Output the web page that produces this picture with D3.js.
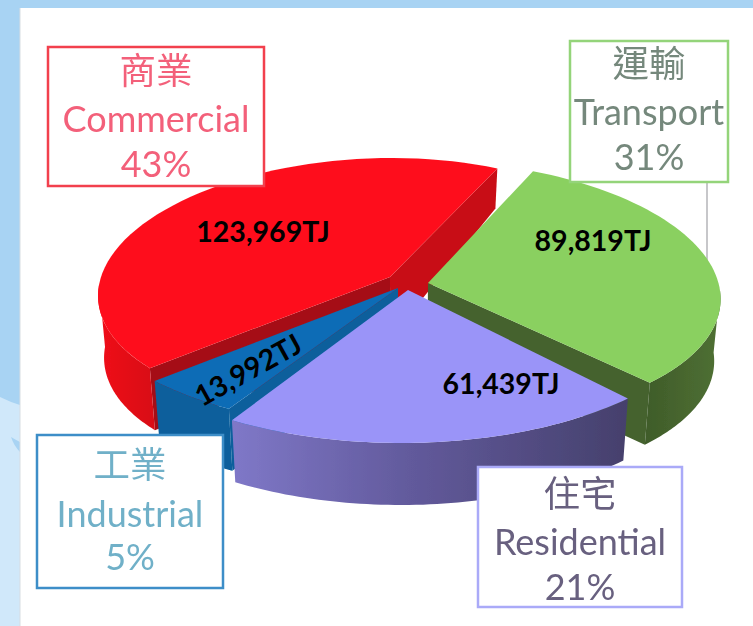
<!DOCTYPE html>
<html>
<head>
<meta charset="utf-8">
<script src="https://cdn.jsdelivr.net/npm/d3@7"></script>
<style>
  html, body { margin: 0; padding: 0; background: #fff; }
  svg { display: block; }
  .name { font-family: "Noto Sans CJK TC", sans-serif; font-size: 36.5px; text-anchor: middle; }
  .nameEn, .share { font-family: Lato, sans-serif; font-size: 36px; text-anchor: middle; }
  .amount { font-family: Lato, sans-serif; font-weight: 700; font-size: 28.5px; fill: #000; text-anchor: middle; }
</style>
</head>
<body>
<div id="chart"></div>
<script>
(function(d3) {
  'use strict';

  // clockwise from the top right
  var categoriesEn = ['Transport', 'Residential', 'Industrial', 'Commercial'];
  var categoriesZh = ['運輸', '住宅', '工業', '商業'];
  var energyTJ = [89819, 61439, 13992, 123969];
  var sharePct = [31, 21, 5, 43];

  var width = 753;
  var height = 626;
  var firstAngle = 23.4 * Math.PI / 180;

  var topColors = ['#8ad060', '#9a94f8', '#0a6cb6', '#fe101c'];
  var boxColors = ['#94d47a', '#aaaaf8', '#3d8ec8', '#f2404e'];
  var textColors = ['#75887c', '#68607f', '#6fb0c8', '#f3607a'];
  var wallColors = ['url(#wallGreen)', 'url(#wallPurple)', '#0a5f9c', 'url(#wallRed)'];
  var cutColors = ['#45622e', '#45622e', '#0a5f9c', '#c80c14'];

  // where each exploded slice sits: apex, ellipse of the rim, skew of the rim
  var sliceLayout = [
    { ax: 428, ay: 283, cx: 438, cy: 290.5, rx: 282, ry: 130, skew: -18.5, cuts: 'end' },
    { ax: 408, ay: 290, cx: 401, cy: 290, rx: 322, ry: 153, skew: 0, cuts: '' },
    { ax: 398, ay: 288, cx: 398, cy: 288, rx: 322, ry: 142, skew: 0, cuts: 'start' },
    { ax: 390, ay: 277, cx: 369, cy: 285, rx: 270, ry: 127, skew: 23, cuts: 'both' }
  ];
  var boxes = [
    { x: 570, y: 41, w: 158, h: 141, base: [77, 125, 170] },
    { x: 478, y: 467, w: 204, h: 140, base: [507, 555, 600] },
    { x: 37, y: 435, w: 186, h: 153, base: [478, 527, 570] },
    { x: 48, y: 47, w: 216, h: 139, base: [84, 132, 177] }
  ];
  var amountPos = [
    { x: 593, y: 251, r: 0 },
    { x: 501, y: 394, r: 0 },
    { x: 253, y: 379, r: -29 },
    { x: 263, y: 242, r: 0 }
  ];

  var svg = d3.select('#chart')
    .append('svg')
    .attr('width', width)
    .attr('height', height);

  var defs = svg.append('defs');
  function wallGradient(id, stops) {
    var g = defs.append('linearGradient').attr('id', id);
    stops.forEach(function(s) {
      g.append('stop').attr('offset', s[0]).attr('stop-color', s[1]);
    });
  }
  wallGradient('wallPurple', [[0, '#7f78c8'], [0.45, '#625a9c'], [1, '#45406c']]);
  wallGradient('wallGreen', [[0, '#3f5c2a'], [1, '#4f7033']]);
  wallGradient('wallRed', [[0, '#f0101a'], [1, '#d80c16']]);
  defs.append('filter').attr('id', 'soft')
    .append('feGaussianBlur').attr('stdDeviation', 0.45);

  // page background
  svg.append('rect').attr('width', width).attr('height', height).attr('fill', '#a8d3f3');
  svg.append('path')
    .attr('d', 'M0,397 Q10,402 20,405 L20,626 L0,626 Z')
    .attr('fill', '#d0e8fa');
  svg.append('path')
    .attr('d', 'M11,437 Q16,440 20,442 L20,452 Q14,446 11,437 Z')
    .attr('fill', '#a8d3f3');
  svg.append('rect').attr('x', 20).attr('y', 8).attr('width', width - 20).attr('height', height - 8).attr('fill', '#fff');
  svg.append('line').attr('x1', 20).attr('x2', 20).attr('y1', 8).attr('y2', height)
    .attr('stroke', '#d8dde2').attr('stroke-width', 1);

  // leader from the transport box
  svg.append('line')
    .attr('x1', 707).attr('x2', 707).attr('y1', 182).attr('y2', 262)
    .attr('stroke', '#b4b4b8').attr('stroke-width', 1.5);

  var pie = d3.pie()
    .value(function(d) { return d; })
    .sort(null)
    .startAngle(firstAngle)
    .endAngle(firstAngle + 2 * Math.PI);

  var slices = pie(energyTJ);
  var line = d3.line();

  function rim(layout, a) {
    return [
      layout.cx + layout.rx * Math.sin(a) + layout.skew * Math.cos(a),
      layout.cy - layout.ry * Math.cos(a)
    ];
  }

  // the far side of the pie looks shorter, the base pulls in a little
  var depth = d3.scaleLinear().domain([168, 280]).range([40, 62]).clamp(true);

  function dropped(p) {
    return [p[0] + (400 - p[0]) * 0.02, p[1] + depth(p[1])];
  }

  function rimPoints(layout, a0, a1) {
    var n = 60;
    return d3.range(n + 1).map(function(i) {
      return rim(layout, a0 + (a1 - a0) * i / n);
    });
  }

  function cutWall(layout, a) {
    var apex = [layout.ax, layout.ay];
    var corner = rim(layout, a);
    return line([apex, corner, dropped(corner), dropped(apex)]) + 'Z';
  }

  // back to front
  var drawOrder = [3, 0, 2, 1];

  var pieGroup = svg.append('g').attr('class', 'pieContainer').attr('filter', 'url(#soft)');

  var slice = pieGroup.selectAll('g')
    .data(drawOrder)
    .enter()
    .append('g')
    .attr('class', 'slice');

  slice.each(function(i) {
    var g = d3.select(this);
    var d = slices[i];
    var layout = sliceLayout[i];

    if (layout.cuts === 'both') {
      g.append('path').attr('d', cutWall(layout, d.endAngle)).attr('fill', cutColors[i]);
      g.append('path').attr('d', cutWall(layout, d.startAngle)).attr('fill', '#a50f18');
    }
    if (layout.cuts === 'end') {
      g.append('path').attr('d', cutWall(layout, d.endAngle)).attr('fill', cutColors[i]);
    }
    if (layout.cuts === 'start') {
      g.append('path').attr('d', cutWall(layout, d.startAngle)).attr('fill', cutColors[i]);
    }

    var wallStart = Math.max(d.startAngle, Math.PI / 2);
    var wallEnd = Math.min(d.endAngle, 3 * Math.PI / 2);
    if (wallEnd > wallStart) {
      var front = rimPoints(layout, wallStart, wallEnd);
      g.append('path')
        .attr('d', line(front.concat(front.map(dropped).reverse())) + 'Z')
        .attr('fill', wallColors[i]);
    }

    g.append('path')
      .attr('d', line([[layout.ax, layout.ay]].concat(rimPoints(layout, d.startAngle, d.endAngle))) + 'Z')
      .attr('fill', topColors[i]);
  });

  // category boxes
  var legend = svg.selectAll('.legend')
    .data(d3.range(categoriesEn.length))
    .enter()
    .append('g')
    .attr('class', 'legend')
    .attr('filter', 'url(#soft)');

  legend.append('rect')
    .attr('x', function(i) { return boxes[i].x; })
    .attr('y', function(i) { return boxes[i].y; })
    .attr('width', function(i) { return boxes[i].w; })
    .attr('height', function(i) { return boxes[i].h; })
    .attr('fill', '#fff')
    .attr('stroke', function(i) { return boxColors[i]; })
    .attr('stroke-width', 2.5);

  function boxText(cls, row, label) {
    legend.append('text')
      .attr('class', cls)
      .attr('x', function(i) { return boxes[i].x + boxes[i].w / 2; })
      .attr('y', function(i) { return boxes[i].base[row]; })
      .attr('fill', function(i) { return textColors[i]; })
      .text(label);
  }
  boxText('name', 0, function(i) { return categoriesZh[i]; });
  boxText('nameEn', 1, function(i) { return categoriesEn[i]; });
  boxText('share', 2, function(i) { return sharePct[i] + '%'; });

  // amounts on the slices
  svg.selectAll('.amount')
    .data(energyTJ)
    .enter()
    .append('text')
    .attr('class', 'amount')
    .attr('transform', function(d, i) {
      var p = amountPos[i];
      return 'translate(' + p.x + ',' + p.y + ') rotate(' + p.r + ')';
    })
    .text(function(d) { return d3.format(',')(d) + 'TJ'; });

})(window.d3);
</script>
</body>
</html>
